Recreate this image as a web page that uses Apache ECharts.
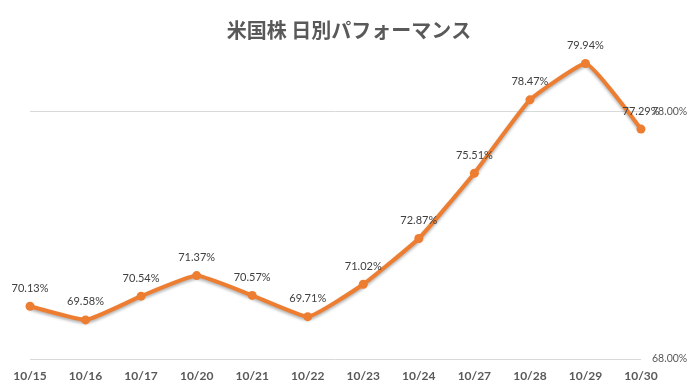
<!DOCTYPE html>
<html><head><meta charset="utf-8">
<script src="https://cdn.jsdelivr.net/npm/echarts@6/dist/echarts.min.js"></script>
<style>html,body{margin:0;padding:0;background:#fff}#c{width:698px;height:392px}</style>
</head><body><div id="c"></div>
<script>
const titleText = '米国株 日別パフォーマンス';
const categories = ['10/15','10/16','10/17','10/20','10/21','10/22','10/23','10/24','10/27','10/28','10/29','10/30'];
const values = [70.13, 69.58, 70.54, 71.37, 70.57, 69.71, 71.02, 72.87, 75.51, 78.47, 79.94, 77.29];
const yMin = 68, yMax = 80, yInterval = 10;

const chart = echarts.init(document.getElementById('c'), null, {renderer:'canvas'});
chart.setOption({
  backgroundColor:'#fff',
  animation:false,
  title:{text:titleText,left:'center',top:15,textStyle:{fontFamily:'Noto Sans CJK JP',fontSize:20,fontWeight:'bold',color:'#595959'}},
  grid:{left:30,right:57,top:62,bottom:33},
  xAxis:{type:'category',data:categories,boundaryGap:false,
    axisLine:{show:false},axisTick:{show:false},
    axisLabel:{fontFamily:'Lato',fontWeight:'bold',fontSize:12,color:'#595959',margin:11}},
  yAxis:{type:'value',position:'right',min:yMin,max:yMax,interval:yInterval,
    axisLine:{show:false},axisTick:{show:false},
    splitLine:{show:true,showMaxLine:false,lineStyle:{color:'#d9d9d9',width:1}},
    axisLabel:{showMaxLabel:false,fontFamily:'Lato',fontSize:10.5,color:'#595959',margin:11,
      formatter:v=>v.toFixed(2)+'%'}},
  series:[{type:'line',data:values,smooth:0.12,symbol:'circle',symbolSize:9,
    lineStyle:{color:'#ED7D31',width:4,shadowColor:'rgba(0,0,0,0.3)',shadowBlur:3,shadowOffsetY:2},
    itemStyle:{color:'#ED7D31'},
    label:{show:true,position:'top',distance:8,fontFamily:'Lato',fontSize:11,color:'#404040',
      formatter:p=>p.value.toFixed(2)+'%'}}]
});
</script></body></html>
